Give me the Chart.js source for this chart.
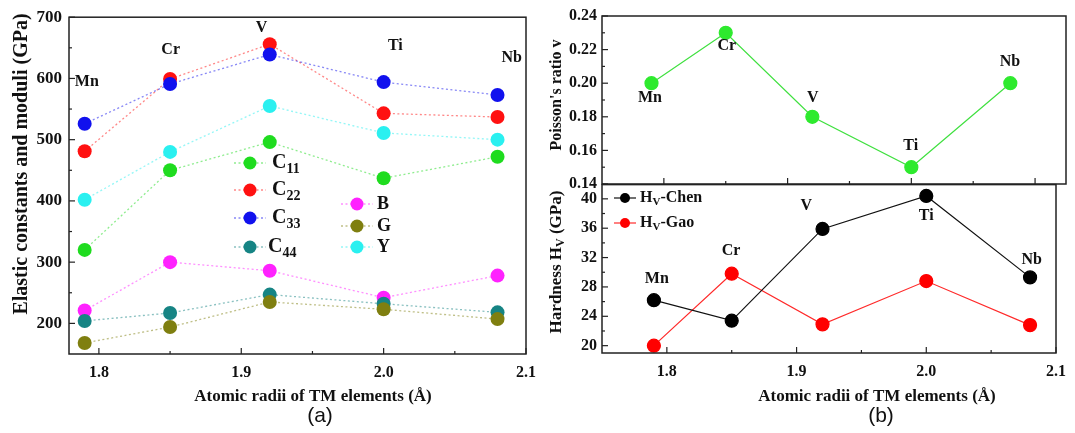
<!DOCTYPE html>
<html lang="en">
<head>
  <meta charset="UTF-8" />
  <title>Elastic constants, Poisson's ratio and hardness</title>
  <script src="https://cdn.jsdelivr.net/npm/chart.js"></script>
  <style>
    body { margin: 0; background: #fff; }
    #wrap { position: relative; width: 1075px; height: 433px; overflow: hidden; }
    canvas { position: absolute; }
  </style>
</head>
<body>
  <div id="wrap">
    <canvas id="elastic" width="545" height="433" style="left:0;top:0"></canvas>
    <canvas id="poisson" width="545" height="200" style="left:530px;top:0"></canvas>
    <canvas id="hardness" width="545" height="263" style="left:530px;top:170px"></canvas>
  </div>

  <script>
    // data
    const elements = ['Mn', 'Cr', 'V', 'Ti', 'Nb'];
    const radii = [1.79, 1.85, 1.92, 2.00, 2.08];

    const c11 = [320, 450, 496, 437, 472];
    const c22 = [481, 599, 656, 543, 537];
    const c33 = [526, 591, 639, 594, 573];
    const c44 = [204, 217, 247, 232, 218];
    const bulkB = [221, 300, 286, 242, 278];
    const shearG = [168, 194, 235, 223, 207];
    const youngY = [402, 480, 555, 511, 500];

    const poisson = [0.20, 0.23, 0.18, 0.15, 0.20];
    const hvChen = [26.2, 23.4, 35.9, 40.4, 29.3];
    const hvGao = [20.0, 29.8, 22.9, 28.8, 22.8];

    const radiusTicks = [1.8, 1.85, 1.9, 1.95, 2.0, 2.05, 2.1];
    const elasticTicks = [200, 250, 300, 350, 400, 450, 500, 550, 600, 650, 700];
    const poissonTicks = [0.14, 0.15, 0.16, 0.17, 0.18, 0.19, 0.20, 0.21, 0.22, 0.23, 0.24];
    const hardnessTicks = [20, 22, 24, 26, 28, 30, 32, 34, 36, 38, 40];

    const SERIF = '"Liberation Serif", "Times New Roman", serif';
    const INK = '#111';

    const pts = ys => radii.map((x, i) => ({ x: x, y: ys[i] }));
    const setTicks = list => s => { s.ticks = list.map(v => ({ value: v })); };
    const isTenth = v => Math.abs(v * 10 - Math.round(v * 10)) < 1e-6;

    function alpha(hex, a) {
      const n = parseInt(hex.slice(1), 16);
      return `rgba(${n >> 16},${(n >> 8) & 255},${n & 255},${a})`;
    }

    // text made of pieces, for subscripts
    function rich(ctx, parts, x, y, align) {
      const fontOf = p => p.f || `bold ${p.s}px ${SERIF}`;
      let w = 0;
      parts.forEach(p => { ctx.font = fontOf(p); w += ctx.measureText(p.t).width; });
      let cx = align === 'center' ? x - w / 2 : align === 'right' ? x - w : x;
      ctx.textAlign = 'left';
      ctx.textBaseline = 'middle';
      ctx.fillStyle = INK;
      parts.forEach(p => {
        ctx.font = fontOf(p);
        ctx.fillText(p.t, cx, y + (p.dy || 0));
        cx += ctx.measureText(p.t).width;
      });
    }

    function makeDeco(cfg) {
      return {
        id: 'deco',
        afterDraw(chart) {
          const ctx = chart.ctx;
          const a = chart.chartArea;
          ctx.save();
          // frame
          ctx.strokeStyle = '#222';
          ctx.lineWidth = 1.5;
          ctx.strokeRect(a.left, a.top, a.right - a.left, a.bottom - a.top);
          // inward ticks
          ctx.lineWidth = 1.2;
          (cfg.ticks || []).forEach(tk => {
            const s = chart.scales[tk.axis];
            s.ticks.forEach(t => {
              const len = tk.major(t.value) ? 6 : 3;
              const p = s.getPixelForValue(t.value);
              ctx.beginPath();
              if (tk.side === 'bottom') { ctx.moveTo(p, a.bottom); ctx.lineTo(p, a.bottom - len); }
              else { ctx.moveTo(a.left, p); ctx.lineTo(a.left + len, p); }
              ctx.stroke();
            });
          });
          // element names next to the points
          (cfg.labels || []).forEach((l, i) => {
            const x = chart.scales.x.getPixelForValue(l[0]);
            const y = chart.scales.y.getPixelForValue(l[1]);
            rich(ctx, [{ t: elements[i], s: cfg.labelSize || 16 }], x, y, 'center');
          });
          // titles
          (cfg.titles || []).forEach(tt => {
            if (tt.rot) {
              ctx.save();
              ctx.translate(tt.x, tt.y);
              ctx.rotate(-Math.PI / 2);
              rich(ctx, tt.parts, 0, 0, 'center');
              ctx.restore();
            } else {
              rich(ctx, tt.parts, tt.x, tt.y, 'center');
            }
          });
          // legend
          (cfg.legend || []).forEach(it => {
            const ds = chart.data.datasets[it.ds];
            ctx.save();
            ctx.strokeStyle = ds.borderColor;
            ctx.lineWidth = ds.borderWidth;
            ctx.setLineDash(ds.borderDash || []);
            ctx.beginPath();
            ctx.moveTo(it.x - it.half, it.y);
            ctx.lineTo(it.x + it.half, it.y);
            ctx.stroke();
            ctx.restore();
            ctx.fillStyle = ds.pointBackgroundColor;
            ctx.beginPath();
            ctx.arc(it.x, it.y, it.r, 0, Math.PI * 2);
            ctx.fill();
            rich(ctx, it.parts, it.tx, it.y, 'left');
          });
          ctx.restore();
        }
      };
    }

    function dotted(label, ys, color, order) {
      return {
        label: label,
        data: pts(ys),
        borderColor: alpha(color, 0.5),
        borderWidth: 1.3,
        borderDash: [2, 2.5],
        pointBackgroundColor: color,
        pointBorderColor: color,
        pointBorderWidth: 0,
        pointRadius: 7,
        order: order
      };
    }

    function axisX(min, max, height, showLabels) {
      return {
        type: 'linear', min: min, max: max,
        afterBuildTicks: setTicks(radiusTicks),
        afterFit: s => { s.height = height; },
        ticks: {
          display: showLabels,
          autoSkip: false, maxRotation: 0, padding: 9,
          color: INK, font: { family: SERIF, size: 16, weight: 'bold' },
          callback: v => isTenth(v) ? v.toFixed(1) : ''
        },
        grid: { display: false, drawTicks: false },
        border: { display: false }
      };
    }

    function axisY(min, max, list, width, size, pad, fmt) {
      return {
        min: min, max: max,
        afterBuildTicks: setTicks(list),
        afterFit: s => { s.width = width; },
        ticks: {
          autoSkip: false, padding: pad,
          color: INK, font: { family: SERIF, size: size, weight: 'bold' },
          callback: fmt
        },
        grid: { display: false, drawTicks: false },
        border: { display: false }
      };
    }

    const base = {
      responsive: false,
      animation: false,
      plugins: { legend: { display: false }, tooltip: { enabled: false } }
    };

    // (a) elastic constants and moduli
    new Chart(document.getElementById('elastic'), {
      type: 'line',
      data: {
        datasets: [
          dotted('C11', c11, '#1fdc1f', 1),
          dotted('C22', c22, '#ff1111', 5),
          dotted('C33', c33, '#1111ee', 0),
          dotted('C44', c44, '#168484', 3),
          dotted('B', bulkB, '#ff22ff', 4),
          dotted('G', shearG, '#7f7f10', 2),
          dotted('Y', youngY, '#2af0f0', 6)
        ]
      },
      options: Object.assign({}, base, {
        layout: { padding: { left: 0, right: 14, top: 17, bottom: 0 } },
        scales: {
          x: axisX(1.779, 2.1, 79, true),
          y: axisY(150, 700, elasticTicks, 69, 17, 7, v => v % 100 === 0 ? String(v) : '')
        }
      }),
      plugins: [makeDeco({
        ticks: [
          { axis: 'x', side: 'bottom', major: isTenth },
          { axis: 'y', side: 'left', major: v => v % 100 === 0 }
        ],
        labels: [[1.7915, 595], [1.8504, 647], [1.9143, 682], [2.0082, 654], [2.09, 633]],
        titles: [
          { rot: true, x: 22, y: 164, parts: [{ t: 'Elastic constants and moduli (GPa)', s: 20 }] },
          { x: 313, y: 397, parts: [{ t: 'Atomic radii of TM elements (Å)', s: 17 }] },
          { x: 320, y: 416, parts: [{ t: '(a)', f: '21px "Liberation Sans", Arial, sans-serif' }] }
        ],
        legend: [
          { ds: 0, x: 250, y: 163, half: 16, r: 6.5, tx: 272, parts: [{ t: 'C', s: 20 }, { t: '11', s: 14, dy: 6 }] },
          { ds: 1, x: 250, y: 190, half: 16, r: 6.5, tx: 272, parts: [{ t: 'C', s: 20 }, { t: '22', s: 14, dy: 6 }] },
          { ds: 2, x: 250, y: 218, half: 16, r: 6.5, tx: 272, parts: [{ t: 'C', s: 20 }, { t: '33', s: 14, dy: 6 }] },
          { ds: 3, x: 250, y: 247, half: 16, r: 6.5, tx: 268, parts: [{ t: 'C', s: 20 }, { t: '44', s: 14, dy: 6 }] },
          { ds: 4, x: 357, y: 204, half: 16, r: 6.5, tx: 377, parts: [{ t: 'B', s: 18 }] },
          { ds: 5, x: 357, y: 226, half: 16, r: 6.5, tx: 377, parts: [{ t: 'G', s: 18 }] },
          { ds: 6, x: 357, y: 247, half: 16, r: 6.5, tx: 377, parts: [{ t: 'Y', s: 18 }] }
        ]
      })]
    });

    // (b) top: Poisson's ratio
    new Chart(document.getElementById('poisson'), {
      type: 'line',
      data: {
        datasets: [{
          label: "Poisson's ratio",
          data: pts(poisson),
          borderColor: '#3fe03f',
          borderWidth: 1.2,
          pointBackgroundColor: '#2eea2e',
          pointBorderColor: '#2eea2e',
          pointRadius: 6.5
        }]
      },
      options: Object.assign({}, base, {
        layout: { padding: { left: 0, right: 9, top: 16, bottom: 0 } },
        scales: {
          x: axisX(1.75, 2.125, 16, false),
          y: axisY(0.14, 0.24, poissonTicks, 72, 16, 5, v => Math.round(v * 100) % 2 === 0 ? v.toFixed(2) : '')
        }
      }),
      plugins: [makeDeco({
        ticks: [
          { axis: 'x', side: 'bottom', major: isTenth },
          { axis: 'y', side: 'left', major: v => Math.round(v * 100) % 2 === 0 }
        ],
        labels: [[1.7888, 0.1913], [1.8508, 0.2221], [1.9203, 0.1913], [1.9995, 0.163], [2.0797, 0.2125]],
        titles: [
          { rot: true, x: 27, y: 95, parts: [{ t: "Poisson's ratio v", s: 16 }] }
        ]
      })]
    });

    // (b) bottom: Vickers hardness
    new Chart(document.getElementById('hardness'), {
      type: 'line',
      data: {
        datasets: [{
          label: 'Hv-Chen',
          data: pts(hvChen),
          borderColor: '#111',
          borderWidth: 1.2,
          pointBackgroundColor: '#000',
          pointBorderColor: '#000',
          pointRadius: 6.5
        }, {
          label: 'Hv-Gao',
          data: pts(hvGao),
          borderColor: '#ff2a2a',
          borderWidth: 1.2,
          pointBackgroundColor: '#ff0000',
          pointBorderColor: '#ff0000',
          pointRadius: 6.5
        }]
      },
      options: Object.assign({}, base, {
        layout: { padding: { left: 0, right: 9, top: 14, bottom: 0 } },
        scales: {
          x: axisX(1.75, 2.1, 80, true),
          y: axisY(19.0, 41.94, hardnessTicks, 72, 16, 5, v => v % 4 === 0 ? String(v) : '')
        }
      }),
      plugins: [makeDeco({
        ticks: [
          { axis: 'x', side: 'bottom', major: isTenth },
          { axis: 'y', side: 'left', major: v => v % 4 === 0 }
        ],
        labels: [[1.7923, 29.14], [1.8495, 32.98], [1.9074, 39.08], [2.0, 37.72], [2.0813, 31.62]],
        titles: [
          { rot: true, x: 27, y: 92, parts: [{ t: 'Hardness H', s: 17 }, { t: 'V', s: 12, dy: 4 }, { t: ' (GPa)', s: 17 }] },
          { x: 347, y: 227, parts: [{ t: 'Atomic radii of TM elements (Å)', s: 17 }] },
          { x: 351, y: 246, parts: [{ t: '(b)', f: '21px "Liberation Sans", Arial, sans-serif' }] }
        ],
        legend: [
          { ds: 0, x: 95, y: 28, half: 11, r: 5, tx: 110, parts: [{ t: 'H', s: 16 }, { t: 'V', s: 11, dy: 4 }, { t: '-Chen', s: 16 }] },
          { ds: 1, x: 95, y: 53, half: 11, r: 5, tx: 110, parts: [{ t: 'H', s: 16 }, { t: 'V', s: 11, dy: 4 }, { t: '-Gao', s: 16 }] }
        ]
      })]
    });
  </script>
</body>
</html>
